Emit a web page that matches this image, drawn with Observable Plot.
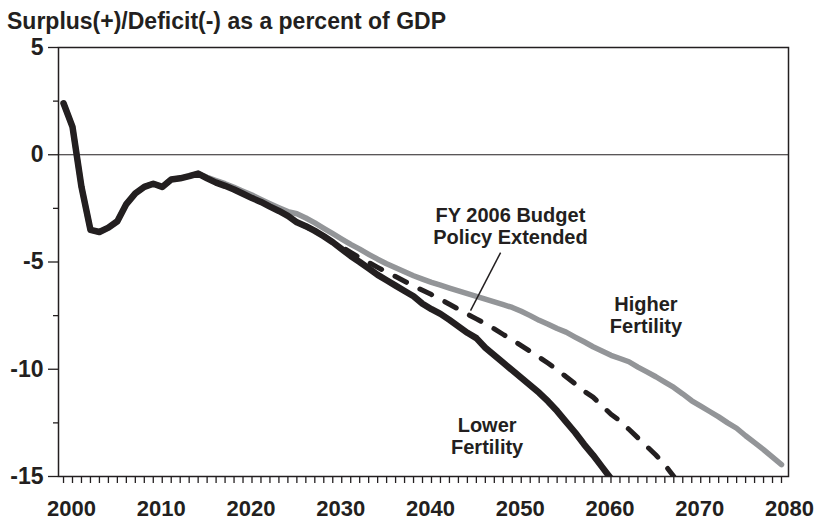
<!DOCTYPE html>
<html><head><meta charset="utf-8">
<script src="https://cdn.jsdelivr.net/npm/d3@7"></script>
<script src="https://cdn.jsdelivr.net/npm/@observablehq/plot@0.6"></script>
<style>
body{margin:0;background:#fff;font-family:"Liberation Sans",Arial,Helvetica,sans-serif;}
#title{font-size:23px;font-weight:bold;line-height:23px;padding:10px 0 0 7px;height:22px;color:#231f20;white-space:nowrap;}
svg text{font-weight:bold;}
</style></head><body>
<div id="title">Surplus(+)/Deficit(-) as a percent of GDP</div>
<div id="chart"></div>
<script>
// ---- data (percent of GDP) ----
const lowerYears = d3.range(2000, 2062);   // 2000..2061
const lowerFertility = [
  2.4, 1.3, -1.5, -3.5, -3.6, -3.4, -3.1, -2.3, -1.8, -1.5,
  -1.35, -1.5, -1.15, -1.1, -1.0, -0.88, -1.1, -1.3, -1.45, -1.62,
  -1.82, -2.02, -2.2, -2.42, -2.62, -2.85, -3.15, -3.33, -3.55, -3.8,
  -4.08, -4.4, -4.72, -5.0, -5.3, -5.6, -5.85, -6.1, -6.35, -6.6,
  -6.95, -7.2, -7.42, -7.7, -8.0, -8.3, -8.55, -9.0, -9.35, -9.7,
  -10.05, -10.4, -10.75, -11.1, -11.5, -11.95, -12.45, -12.95, -13.5, -14.0,
  -14.55, -15.1
];
const higherYears = d3.range(2000, 2081);  // 2000..2080
const higherFertility = [
  2.4, 1.3, -1.5, -3.5, -3.6, -3.4, -3.1, -2.3, -1.8, -1.5,
  -1.35, -1.5, -1.15, -1.1, -1.0, -0.88, -1.05, -1.2, -1.35, -1.52,
  -1.7, -1.88, -2.08, -2.28, -2.47, -2.65, -2.75, -2.95, -3.18, -3.43,
  -3.68, -3.93, -4.18, -4.4, -4.64, -4.87, -5.08, -5.27, -5.46, -5.64,
  -5.8, -5.95, -6.08, -6.22, -6.35, -6.48, -6.6, -6.73, -6.86, -6.99,
  -7.12, -7.3, -7.5, -7.72, -7.9, -8.1, -8.27, -8.5, -8.72, -8.95,
  -9.15, -9.35, -9.5, -9.65, -9.9, -10.12, -10.35, -10.6, -10.85, -11.15,
  -11.47, -11.72, -11.97, -12.22, -12.5, -12.75, -13.1, -13.42, -13.75, -14.1,
  -14.45
];
const policyYears = d3.range(2026, 2069);  // 2026..2068
const budgetPolicy = [
  -3.15, -3.35, -3.58, -3.82, -4.06, -4.3, -4.55, -4.8, -5.02, -5.25,
  -5.47, -5.68, -5.9, -6.12, -6.32, -6.52, -6.74, -6.97, -7.2, -7.43,
  -7.65, -7.88, -8.12, -8.38, -8.63, -8.9, -9.17, -9.44, -9.72, -10.02,
  -10.35, -10.68, -11.02, -11.3, -11.7, -12.1, -12.4, -12.8, -13.2, -13.6,
  -14.0, -14.45, -15.0
];
const xTickYears = d3.range(2000, 2081);
const xLabelYears = [2000, 2010, 2020, 2030, 2040, 2050, 2060, 2070, 2080];
const yLabelTicks = [5, 0, -5, -10, -15];
const yMinorTicks = [2.5, -2.5, -7.5, -12.5];
const labels = [
  {year: 2049.8, value: -3.34, text: "FY 2006 Budget\nPolicy Extended"},
  {year: 2064.9, value: -7.45, text: "Higher\nFertility"},
  {year: 2047.2, value: -13.1, text: "Lower\nFertility"}
];
const leader = [{x1: 2048.7, y1: -4.56, x2: 2045.35, y2: -7.27}];

const toRows = (years, vals) => years.map((y, i) => ({year: y, value: vals[i]}));
const lowerRows = toRows(lowerYears, lowerFertility);
const higherRows = toRows(higherYears, higherFertility);
const policyRows = toRows(policyYears, budgetPolicy);

const ink = "#231f20";
const chart = Plot.plot({
  width: 821, height: 489,
  marginTop: 15, marginBottom: 45, marginLeft: 58, marginRight: 33,
  x: {domain: [1999.44, 2080.78]},
  y: {domain: [-15, 5]},
  style: {fontFamily: '"Liberation Sans", Arial, Helvetica, sans-serif', fontWeight: "bold", color: ink, background: "white", overflow: "visible"},
  marks: [
    Plot.ruleY([0], {stroke: ink, strokeWidth: 1.2}),
    Plot.axisY({ticks: yMinorTicks, tickSize: 5, tickFormat: () => "", label: null, stroke: ink, strokeWidth: 1.3}),
    Plot.axisY({ticks: yLabelTicks, tickSize: 10, tickPadding: 5, fontSize: 23, tickFormat: d => String(d), label: null, stroke: ink, strokeWidth: 1.3}),
    Plot.axisX({ticks: xTickYears, tickSize: 7, tickFormat: () => "", label: null, stroke: ink, strokeWidth: 1.3}),
    Plot.axisX({ticks: xLabelYears, tickSize: 0, tickPadding: 24, dx: 8, fontSize: 22, tickFormat: d => String(d), label: null}),
    Plot.line(higherRows, {x: "year", y: "value", stroke: "#939598", strokeWidth: 5.5, strokeLinejoin: "round", clip: true}),
    Plot.line(policyRows, {x: "year", y: "value", stroke: ink, strokeWidth: 5, strokeDasharray: "13,15", clip: true}),
    Plot.line(lowerRows, {x: "year", y: "value", stroke: ink, strokeWidth: 6.5, strokeLinejoin: "round", clip: true}),
    Plot.link(leader, {x1: "x1", y1: "y1", x2: "x2", y2: "y2", stroke: ink, strokeWidth: 1.5}),
    Plot.text(labels, {x: "year", y: "value", text: "text", fontSize: 20, lineHeight: 1.1, textAnchor: "middle", lineAnchor: "middle", fill: ink}),
    Plot.frame({stroke: ink, strokeWidth: 1.5})
  ]
});
document.getElementById("chart").appendChild(chart);
</script>
</body></html>
